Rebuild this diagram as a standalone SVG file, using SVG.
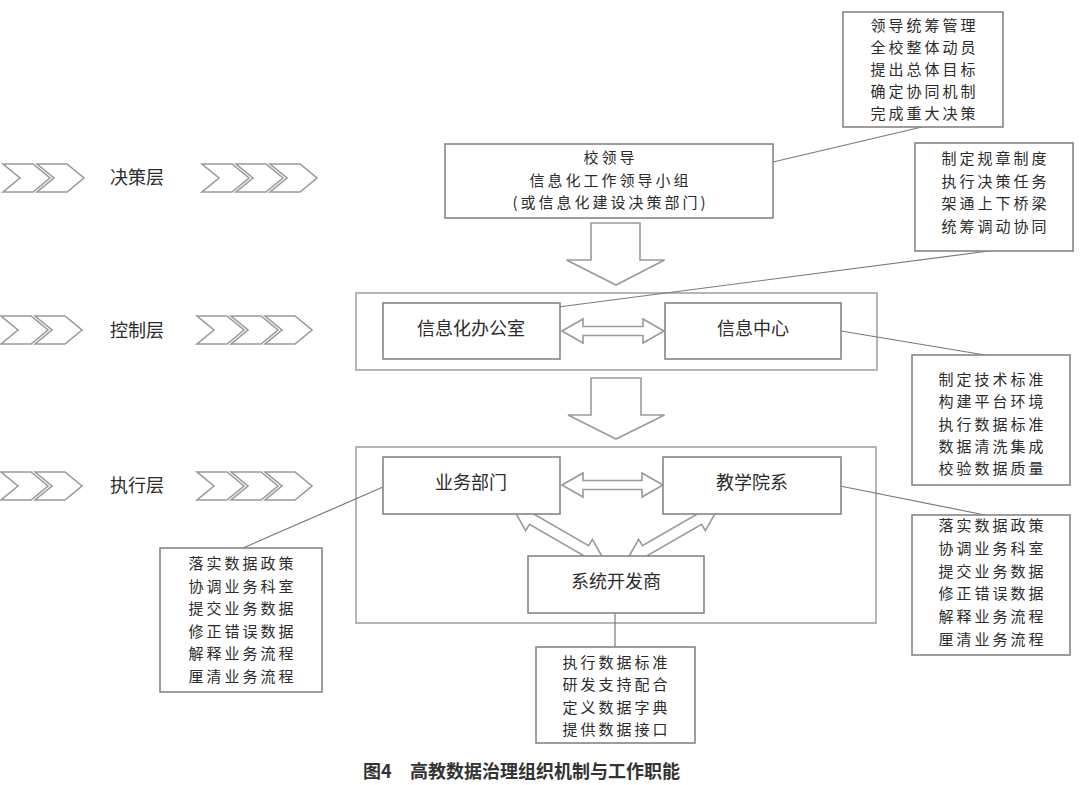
<svg xmlns="http://www.w3.org/2000/svg" width="1080" height="785" viewBox="0 0 1080 785">
<style>
  .bg{fill:#ffffff}
  .box{fill:#ffffff;stroke:#858585;stroke-width:1.6}
  .cont{fill:none;stroke:#b5b5b5;stroke-width:2}
  .t{font-family:"Noto Sans CJK SC","Noto Sans",sans-serif;font-size:18px;fill:#2b2b2b;text-anchor:middle}
  .m{font-family:"Noto Sans CJK SC","Noto Sans",sans-serif;font-size:15px;letter-spacing:3px;fill:#2b2b2b;text-anchor:middle}
  .lbl{font-family:"Noto Sans CJK SC","Noto Sans",sans-serif;font-size:18px;fill:#2b2b2b;text-anchor:middle}
  .chev{fill:#ffffff;stroke:#9a9a9a;stroke-width:1.6;stroke-linejoin:miter}
  .blk{fill:#ffffff;stroke:#9a9a9a;stroke-width:1.6;stroke-linejoin:miter}
  .ln{stroke:#7a7a7a;stroke-width:1.2;fill:none}
  .cap{font-family:"Noto Sans CJK SC","Noto Sans",sans-serif;font-size:18px;font-weight:bold;fill:#333333}
</style>
<defs>
  <path id="chev" d="M0,-14 L30,-14 L47,0 L30,14 L0,14 L17,0 Z"/>
  <path id="dbl" d="M-53,0 L-31,-13 L-31,-5.5 L31,-5.5 L31,-13 L53,0 L31,13 L31,5.5 L-31,5.5 L-31,13 Z"/>
</defs>
<rect class="bg" x="0" y="0" width="1080" height="785"/>

<g id="layer-labels">
  <g id="row-decision">
    <use href="#chev" class="chev" x="3" y="178"/>
    <use href="#chev" class="chev" x="37" y="178"/>
    <text class="lbl" x="137" y="184">决策层</text>
    <use href="#chev" class="chev" x="202" y="178"/>
    <use href="#chev" class="chev" x="236" y="178"/>
    <use href="#chev" class="chev" x="270" y="178"/>
  </g>
  <g id="row-control">
    <use href="#chev" class="chev" x="1" y="330"/>
    <use href="#chev" class="chev" x="35" y="330"/>
    <text class="lbl" x="137" y="337">控制层</text>
    <use href="#chev" class="chev" x="197" y="330"/>
    <use href="#chev" class="chev" x="231" y="330"/>
    <use href="#chev" class="chev" x="265" y="330"/>
  </g>
  <g id="row-execute">
    <use href="#chev" class="chev" x="1" y="486"/>
    <use href="#chev" class="chev" x="35" y="486"/>
    <text class="lbl" x="137" y="492">执行层</text>
    <use href="#chev" class="chev" x="197" y="486"/>
    <use href="#chev" class="chev" x="231" y="486"/>
    <use href="#chev" class="chev" x="265" y="486"/>
  </g>
</g>

<g id="containers">
  <rect id="control-layer" class="cont" x="356" y="293" width="521" height="77"/>
  <rect id="execute-layer" class="cont" x="356" y="447" width="520" height="176"/>
</g>

<g id="connectors">
  <line class="ln" x1="773" y1="162" x2="922" y2="127"/>
  <line class="ln" x1="989" y1="251" x2="512" y2="313"/>
  <line class="ln" x1="841" y1="331" x2="985" y2="355"/>
  <line class="ln" x1="383" y1="487" x2="243" y2="548"/>
  <line class="ln" x1="840" y1="486" x2="985" y2="515"/>
  <line class="ln" x1="615" y1="613" x2="615" y2="647"/>
  <path class="blk" d="M591,223 L640,223 L640,260 L664.5,260 L616,285 L566.5,260 L591,260 Z"/>
  <path class="blk" d="M591,378 L641,378 L641,415 L664.5,415 L616,439 L568,415 L591,415 Z"/>
  <path class="blk" d="M562,331 L583,319 L583,326.5 L643,326.5 L643,319 L664,331 L643,343 L643,335.5 L583,335.5 L583,343 Z"/>
  <path class="blk" d="M562,485 L583,473 L583,480.5 L642,480.5 L642,473 L663,485 L642,497 L642,489.5 L583,489.5 L583,497 Z"/>
  <use href="#dbl" class="blk" transform="translate(559,535) rotate(30)"/>
  <use href="#dbl" class="blk" transform="translate(672,535) rotate(-30)"/>
</g>

<g id="n-decision-duties">
  <rect class="box" x="843" y="12" width="160" height="115"/>
  <text class="m" x="924.5" y="31">领导统筹管理<tspan x="924.5" dy="22">全校整体动员</tspan><tspan x="924.5" dy="22">提出总体目标</tspan><tspan x="924.5" dy="22">确定协同机制</tspan><tspan x="924.5" dy="22">完成重大决策</tspan></text>
</g>

<g id="n-leader">
  <rect class="box" x="445" y="144" width="328" height="74"/>
  <text class="m" x="610.5" y="163">校领导<tspan x="610.5" dy="22.5">信息化工作领导小组</tspan><tspan x="610.5" dy="22.5">(或信息化建设决策部门)</tspan></text>
</g>

<g id="n-control-duties">
  <rect class="box" x="915" y="143" width="158" height="108"/>
  <text class="m" x="995.5" y="164">制定规章制度<tspan x="995.5" dy="22.7">执行决策任务</tspan><tspan x="995.5" dy="22.7">架通上下桥梁</tspan><tspan x="995.5" dy="22.7">统筹调动协同</tspan></text>
</g>

<g id="n-office">
  <rect class="box" x="383" y="303" width="177" height="56"/>
  <text class="t" x="471" y="335">信息化办公室</text>
</g>

<g id="n-infocenter">
  <rect class="box" x="665" y="303" width="176" height="56"/>
  <text class="t" x="753" y="335">信息中心</text>
</g>

<g id="n-infocenter-duties">
  <rect class="box" x="912" y="355" width="158" height="130"/>
  <text class="m" x="992.5" y="385">制定技术标准<tspan x="992.5" dy="22.25">构建平台环境</tspan><tspan x="992.5" dy="22.25">执行数据标准</tspan><tspan x="992.5" dy="22.25">数据清洗集成</tspan><tspan x="992.5" dy="22.25">校验数据质量</tspan></text>
</g>

<g id="n-business">
  <rect class="box" x="383" y="457" width="177" height="57"/>
  <text class="t" x="471" y="489">业务部门</text>
</g>

<g id="n-college">
  <rect class="box" x="663" y="457" width="178" height="57"/>
  <text class="t" x="752" y="489">教学院系</text>
</g>

<g id="n-vendor">
  <rect class="box" x="528" y="556" width="176" height="57"/>
  <text class="t" x="616" y="588">系统开发商</text>
</g>

<g id="n-business-duties">
  <rect class="box" x="160" y="548" width="162" height="144"/>
  <text class="m" x="242.5" y="569">落实数据政策<tspan x="242.5" dy="22.6">协调业务科室</tspan><tspan x="242.5" dy="22.6">提交业务数据</tspan><tspan x="242.5" dy="22.6">修正错误数据</tspan><tspan x="242.5" dy="22.6">解释业务流程</tspan><tspan x="242.5" dy="22.6">厘清业务流程</tspan></text>
</g>

<g id="n-college-duties">
  <rect class="box" x="912" y="515" width="158" height="140"/>
  <text class="m" x="992.5" y="531">落实数据政策<tspan x="992.5" dy="22.8">协调业务科室</tspan><tspan x="992.5" dy="22.8">提交业务数据</tspan><tspan x="992.5" dy="22.8">修正错误数据</tspan><tspan x="992.5" dy="22.8">解释业务流程</tspan><tspan x="992.5" dy="22.8">厘清业务流程</tspan></text>
</g>

<g id="n-vendor-duties">
  <rect class="box" x="536" y="647" width="159" height="96"/>
  <text class="m" x="616.5" y="668">执行数据标准<tspan x="616.5" dy="22.3">研发支持配合</tspan><tspan x="616.5" dy="22.3">定义数据字典</tspan><tspan x="616.5" dy="22.3">提供数据接口</tspan></text>
</g>

<text id="caption" class="cap" x="363" y="778">图4<tspan x="410">高教数据治理组织机制与工作职能</tspan></text>
</svg>
